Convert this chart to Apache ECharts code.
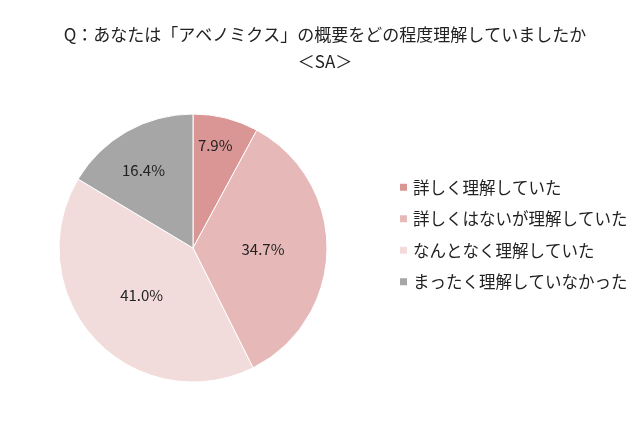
<!DOCTYPE html>
<html><head><meta charset="utf-8">
<script src="https://cdn.jsdelivr.net/npm/echarts@6/dist/echarts.min.js"></script>
<style>html,body{margin:0;background:#fff}#c{width:640px;height:426px}</style>
</head><body><div id="c"></div>
<script>
var categories = ["詳しく理解していた", "詳しくはないが理解していた", "なんとなく理解していた", "まったく理解していなかった"];
var values = [7.9, 34.7, 41.0, 16.4];
var colors = ["#d99694", "#e6b9b8", "#f2dcdb", "#a6a6a6"];

var chart = echarts.init(document.getElementById("c"));
var font = "'Noto Sans CJK JP', sans-serif";
chart.setOption({
    animation: false,
    textStyle: { fontFamily: font },
    title: {
        text: "Q：あなたは「アベノミクス」の概要をどの程度理解していましたか\n＜SA＞",
        left: 320, top: 16, textAlign: "center",
        textStyle: { fontSize: 17, fontWeight: "normal", color: "#222", lineHeight: 27, fontFamily: font }
    },
    legend: {
        orient: "vertical", left: 393, top: 174, itemGap: 15,
        itemWidth: 9, itemHeight: 9, icon: "rect",
        textStyle: { fontSize: 16.5, color: "#222", fontFamily: font },
        data: categories
    },
    series: [{
        type: "pie", center: [193, 248], radius: 134,
        startAngle: 90, clockwise: true,
        itemStyle: { borderColor: "#fff", borderWidth: 1 },
        label: { position: "inside", fontSize: 15, color: "#222", fontFamily: font,
            formatter: function (p) { return p.value.toFixed(1) + "%"; } },
        data: categories.map(function (c, i) {
            var d = { name: c, value: values[i], itemStyle: { color: colors[i] } };
            if (i === 0) d.label = { offset: [5, -35] };
            if (i === 3) d.label = { offset: [-15, -17] };
            return d;
        })
    }]
});
</script></body></html>
